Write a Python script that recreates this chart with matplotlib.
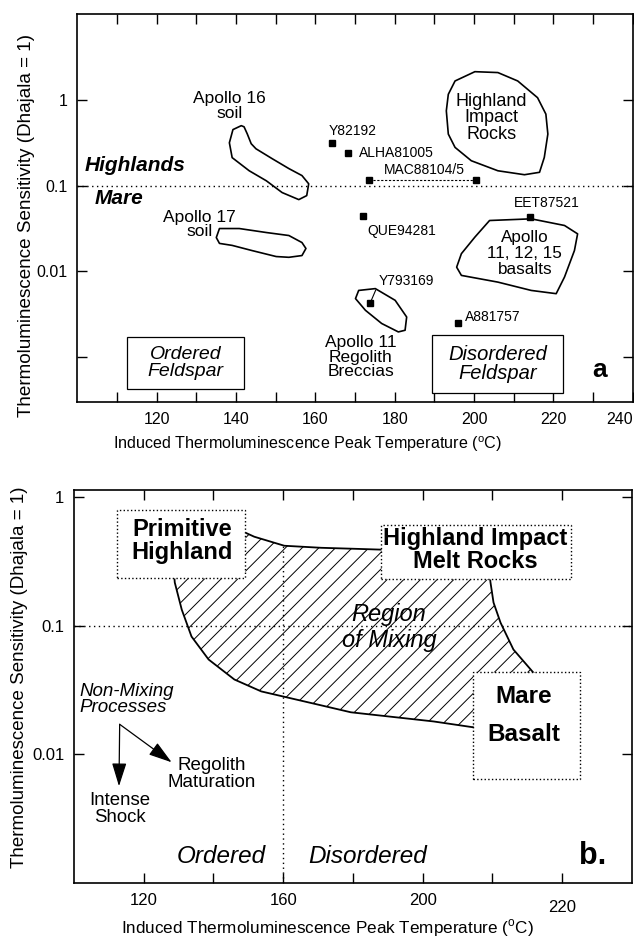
import matplotlib
matplotlib.use("Agg")
import matplotlib.pyplot as plt
from matplotlib.patches import Polygon

plt.rcParams['font.family'] = ['Liberation Sans', 'DejaVu Sans']
plt.rcParams['mathtext.fontset'] = 'custom'
plt.rcParams['mathtext.rm'] = 'Liberation Sans'
plt.rcParams['hatch.linewidth'] = 0.7

# ---------------- panel a: fields (peak temperature in C, TL sensitivity) ----
apollo16_soil_T = [141.3, 142.0, 142.8, 143.8, 145.0, 149.1, 153.3, 156.6, 158.3, 157.8,
                   155.8, 151.6, 147.6, 143.3, 139.0, 138.3, 139.2]
apollo16_soil_S = [0.50, 0.485, 0.402, 0.308, 0.269, 0.206, 0.158, 0.131, 0.105, 0.0765,
                   0.0687, 0.083, 0.114, 0.149, 0.212, 0.316, 0.45]

apollo17_soil_T = [135.8, 140.8, 147.6, 153.3, 156.6, 157.6, 156.6, 153.3, 150.1, 144.0,
                   139.0, 135.8, 135.0]
apollo17_soil_S = [0.0316, 0.0316, 0.0284, 0.0262, 0.0217, 0.0185, 0.0153, 0.0146, 0.0149,
                   0.0175, 0.0201, 0.0212, 0.0248]

highland_impact_T = [195.2, 200.2, 206.0, 211.0, 216.0, 218.1, 218.6, 217.7, 216.5, 212.7,
                     206.0, 199.3, 195.2, 193.5, 193.0, 193.5]
highland_impact_S = [1.66, 2.13, 2.08, 1.66, 1.06, 0.682, 0.399, 0.213, 0.143, 0.134,
                     0.149, 0.195, 0.279, 0.399, 0.745, 1.16]

mare_basalt_T = [203.9, 214.4, 222.8, 226.1, 225.3, 222.8, 220.7, 214.4, 206.0, 196.8,
                 195.6, 196.8, 200.2]
mare_basalt_S = [0.0392, 0.041, 0.0343, 0.0274, 0.0175, 0.0086, 0.0055, 0.0060, 0.0075,
                 0.00898, 0.0112, 0.0161, 0.0251]

breccia_T = [170.9, 175.1, 180.1, 183.0, 182.6, 180.9, 176.7, 172.6, 170.1]
breccia_S = [0.0060, 0.0063, 0.0046, 0.00294, 0.00206, 0.00197, 0.00247, 0.00352, 0.00482]

# individual meteorites
sample_names = ['Y82192', 'ALHA81005', 'EET87521', 'QUE94281', 'Y793169', 'A881757']
sample_T = [164.1, 168.1, 214.0, 172.0, 173.8, 196.0]
sample_S = [0.31, 0.24, 0.0428, 0.0448, 0.00428, 0.00247]

mac_name = 'MAC88104/5'
mac_T = [173.4, 200.4]
mac_S = [0.117, 0.117]

# ---------------- panel b: mixing region --------------------------------------
mixing_T = [128.6, 128.9, 130.9, 133.7, 138.6, 146.0, 153.7, 170.9, 179.4, 203.1, 216.6,
            236.6, 231.7, 226.0, 222.3, 220.3, 219.4, 219.1, 189.4, 180.3, 170.9, 160.3,
            151.7, 148.6, 146.6]
mixing_S = [0.272, 0.216, 0.133, 0.0822, 0.0545, 0.0381, 0.0308, 0.0240, 0.0212, 0.0180,
            0.0159, 0.0349, 0.0432, 0.0652, 0.1055, 0.151, 0.219, 0.272, 0.388, 0.395,
            0.402, 0.417, 0.490, 0.535, 0.575]

ylabels_text = ['1', '0.1', '0.01']
xlabel_text = r'Induced Thermoluminescence Peak Temperature ($^{\rm o}$C)'
ylabel_text = 'Thermoluminescence Sensitivity (Dhajala = 1)'

fig = plt.figure(figsize=(6.34, 9.38), dpi=100)
axa = fig.add_axes([0.1222, 0.5714, 0.8758, 0.4136])
axb = fig.add_axes([0.1167, 0.0586, 0.8801, 0.4190])


def style_axes(ax, xticks, xticklabels, yticks, yticklabels, fs):
    ax.set_yscale('log')
    ax.set_xticks(xticks)
    ax.set_xticklabels(xticklabels, fontsize=fs)
    ax.set_yticks(yticks)
    ax.set_yticklabels(yticklabels, fontsize=fs)
    ax.minorticks_off()
    ax.tick_params(direction='in', top=True, right=True, length=7, width=1.0, pad=7)
    for s in ax.spines.values():
        s.set_linewidth(1.2)


def outline(ax, T, S, **kw):
    ax.add_patch(Polygon(list(zip(T, S)), closed=True, fill=False, ec='black',
                         lw=1.2, joinstyle='round', **kw))


def rect(ax, x0, x1, y0, y1, ls='-', lw=0.9, z=3):
    ax.add_patch(Polygon([(x0, y0), (x1, y0), (x1, y1), (x0, y1)], closed=True,
                         fc='white', ec='black', ls=ls, lw=lw, zorder=z))


# ================================ panel a =====================================
ax = axa
ax.set_xlim(100, 240)
ax.set_ylim(3e-4, 10)
style_axes(ax, range(110, 241, 10),
           ['' if v % 20 else str(v) for v in range(110, 241, 10)],
           [1, 0.1, 0.01, 0.001], ylabels_text + [''], 11.5)
ax.get_xticklabels()[-1].set_ha('right')
ax.axhline(0.1, color='black', ls=(0, (1, 2.5)), lw=1.0)

for T, S in [(apollo16_soil_T, apollo16_soil_S), (apollo17_soil_T, apollo17_soil_S),
             (highland_impact_T, highland_impact_S), (mare_basalt_T, mare_basalt_S),
             (breccia_T, breccia_S)]:
    outline(ax, T, S)

ax.plot(mac_T, mac_S, color='black', ls=(0, (2, 1.5)), lw=0.8, marker='s', ms=5)
ax.plot(sample_T, sample_S, ls='none', marker='s', ms=5, color='black')

offsets = {'Y82192': (-2, 9), 'ALHA81005': (8, 0), 'EET87521': (-11, 10),
           'QUE94281': (3, -11), 'Y793169': (6, 16), 'A881757': (5, 4.5)}
for name, t, s in zip(sample_names, sample_T, sample_S):
    if name == 'Y793169':
        ax.annotate(name, (t, s), xytext=offsets[name], textcoords='offset points',
                    ha='left', va='center', fontsize=10,
                    arrowprops=dict(arrowstyle='-', lw=0.8, shrinkA=0, shrinkB=0,
                                    relpos=(0, 0.3)))
    else:
        ax.annotate(name, (t, s), xytext=offsets[name], textcoords='offset points',
                    ha='left', va='center', fontsize=10)
ax.annotate(mac_name, (mac_T[0], mac_S[0]), xytext=(11, 7), textcoords='offset points',
            ha='left', va='center', fontsize=10)

txt = dict(ha='center', va='center', fontsize=12.5, linespacing=0.95)
ax.text(138.3, 0.85, 'Apollo 16\nsoil', **txt)
ax.text(130.7, 0.0352, 'Apollo 17\nsoil', **txt)
ax.text(204.3, 0.62, 'Highland\nImpact\nRocks', **dict(txt, fontsize=13))
ax.text(212.8, 0.0162, 'Apollo\n11, 12, 15\nbasalts',
        **dict(txt, fontsize=12.3, linespacing=1.05))
ax.text(171.4, 0.001, 'Apollo 11\nRegolith\nBreccias', **dict(txt, fontsize=12.5))
ax.text(101.9, 0.171, 'Highlands', ha='left', va='center', fontsize=15,
        fontweight='bold', style='italic')
ax.text(104.4, 0.0706, 'Mare', ha='left', va='center', fontsize=15,
        fontweight='bold', style='italic')

rect(ax, 112.4, 142.0, 0.000425, 0.00171)
rect(ax, 189.5, 222.3, 0.000381, 0.0018)
ax.text(127.2, 0.00085, 'Ordered\nFeldspar', ha='center', va='center', fontsize=14,
        style='italic', linespacing=1.0, zorder=4)
ax.text(205.9, 0.00083, 'Disordered\nFeldspar', ha='center', va='center', fontsize=14.5,
        style='italic', linespacing=1.0, zorder=4)
ax.text(231.6, 0.000706, 'a', ha='center', va='center', fontsize=19, fontweight='bold')

ax.set_xlabel(xlabel_text, fontsize=11.6)
ax.xaxis.set_label_coords(0.415, -0.083)
ax.set_ylabel(ylabel_text, fontsize=13.6)
ax.yaxis.set_label_coords(-0.077, 0.456)

# ================================ panel b =====================================
ax = axb
ax.set_xlim(100, 260)
ax.set_ylim(1e-3, 1.13)
style_axes(ax, range(120, 241, 20), ['120', '', '160', '', '200', '', '220'],
           [1, 0.1, 0.01], ylabels_text, 12)
ax.xaxis.get_major_ticks()[-1].set_pad(12)
ax.axhline(0.1, color='black', ls=(0, (1, 2.5)), lw=1.0, zorder=2)
ax.plot([160, 160], [1e-3, 0.417], color='black', ls=(0, (1, 2.5)), lw=1.0, zorder=2)

ax.add_patch(Polygon(list(zip(mixing_T, mixing_S)), closed=True, fill=False,
                     ec='black', lw=1.3, hatch='//', zorder=1))

rect(ax, 112.3, 148.9, 0.236, 0.793, ls=':', lw=1.0)
rect(ax, 188.0, 242.6, 0.231, 0.607, ls=':', lw=1.0)
rect(ax, 214.3, 245.1, 0.0064, 0.0432, ls=':', lw=1.0)

bold = dict(ha='center', va='center', fontsize=17, fontweight='bold', linespacing=1.0,
            zorder=5)
ax.text(130.9, 0.45, 'Primitive\nHighland', **bold)
ax.text(215.1, 0.385, 'Highland Impact\nMelt Rocks', **bold)
ax.text(228.9, 0.0200, 'Mare\n\nBasalt', **dict(bold, fontsize=17.5, linespacing=0.78))
ax.text(190.3, 0.0965, 'Region\nof Mixing', ha='center', va='center', fontsize=17,
        style='italic', linespacing=1.2, zorder=4)

ax.text(101.6, 0.0267, 'Non-Mixing\nProcesses', ha='left', va='center', fontsize=13.5,
        style='italic', linespacing=0.9)
arrow = dict(arrowstyle='-|>,head_length=0.8,head_width=0.25', color='black', lw=0.9,
             mutation_scale=18, shrinkA=0, shrinkB=0)
ax.annotate('', xy=(112.9, 0.00565), xytext=(113.1, 0.0171), arrowprops=arrow)
ax.annotate('', xy=(128.0, 0.00867), xytext=(113.1, 0.0171), arrowprops=arrow)
ax.text(113.1, 0.00375, 'Intense\nShock', ha='center', va='center', fontsize=13.4,
        linespacing=1.0)
ax.text(139.4, 0.0070, 'Regolith\nMaturation', ha='center', va='center', fontsize=13.5,
        linespacing=1.0)

ax.text(142.3, 0.00162, 'Ordered', ha='center', va='center', fontsize=17.5,
        style='italic')
ax.text(184.3, 0.00162, 'Disordered', ha='center', va='center', fontsize=17.5,
        style='italic')
ax.text(248.6, 0.00162, 'b.', ha='center', va='center', fontsize=22, fontweight='bold')

ax.set_xlabel(xlabel_text, fontsize=12.3)
ax.xaxis.set_label_coords(0.455, -0.088)
ax.set_ylabel(ylabel_text, fontsize=13.5)
ax.yaxis.set_label_coords(-0.082, 0.524)

fig.savefig('out.png', dpi=100)
